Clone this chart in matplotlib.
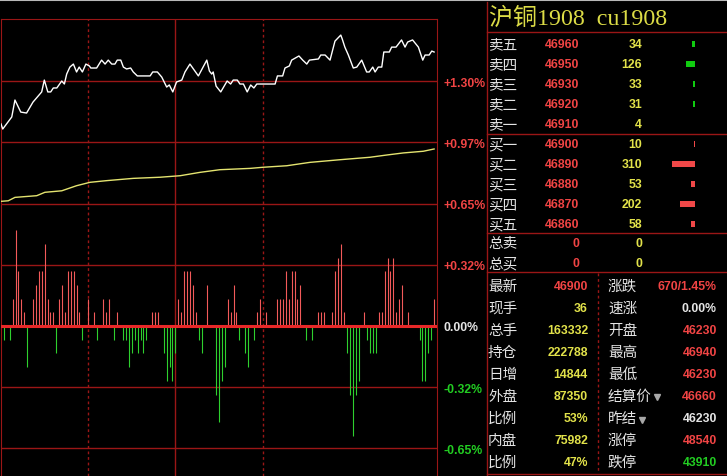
import matplotlib.pyplot as plt
import numpy as np

plt.rcParams['font.family'] = ['Noto Sans CJK SC', 'DejaVu Sans']

W, H = 727, 477

# 分时走势: 时间槽 (0-150) 与涨跌幅 (%)
price_t = [0.0, 0.6, 3.7, 4.8, 6.8, 8.8, 11.0, 14.0, 14.9, 16.1, 17.1, 18.0, 19.2, 20.9,
           21.8, 22.6, 23.7, 24.9, 26.0, 26.9, 28.0, 29.2, 30.4, 30.9, 32.9, 34.6, 35.8,
           36.9, 38.1, 39.2, 40.0, 41.2, 42.1, 43.2, 44.6, 45.5, 46.9, 51.3, 52.2, 53.8,
           55.3, 57.0, 57.9, 59.1, 60.4, 62.2, 63.3, 65.0, 67.9, 70.8, 71.7, 72.5, 73.0,
           74.0, 75.6, 77.8, 79.0, 79.9, 81.3, 82.2, 83.4, 84.7, 85.9, 87.0, 88.0, 94.3,
           95.1, 96.9, 97.7, 99.2, 100.0, 102.5, 103.8, 105.2, 106.1, 109.2, 110.0, 111.5,
           113.2, 114.9, 116.9, 117.4, 118.3, 119.5, 121.2, 122.4, 124.1, 125.8, 126.7,
           127.9, 128.7, 129.8, 131.0, 131.7, 133.6, 134.4, 135.9, 137.8, 139.0, 139.9,
           141.6, 143.6, 145.1, 145.9, 147.3, 148.2, 149.0]
price_pct = [1.073, 1.046, 1.110, 1.200, 1.136, 1.131, 1.189, 1.243, 1.306, 1.243, 1.243,
             1.264, 1.264, 1.301, 1.285, 1.338, 1.375, 1.391, 1.349, 1.375, 1.349, 1.391,
             1.381, 1.370, 1.370, 1.412, 1.391, 1.412, 1.391, 1.391, 1.412, 1.412, 1.375,
             1.365, 1.370, 1.349, 1.328, 1.328, 1.349, 1.349, 1.322, 1.269, 1.280, 1.243,
             1.296, 1.306, 1.349, 1.391, 1.328, 1.412, 1.354, 1.338, 1.349, 1.274, 1.243,
             1.301, 1.285, 1.306, 1.306, 1.285, 1.285, 1.243, 1.280, 1.264, 1.285, 1.285,
             1.328, 1.328, 1.370, 1.381, 1.412, 1.434, 1.412, 1.391, 1.412, 1.418, 1.439,
             1.439, 1.412, 1.513, 1.545, 1.524, 1.481, 1.439, 1.370, 1.375, 1.412, 1.349,
             1.349, 1.375, 1.349, 1.375, 1.375, 1.455, 1.455, 1.481, 1.481, 1.519, 1.481,
             1.508, 1.519, 1.481, 1.412, 1.439, 1.439, 1.460, 1.455]

# 均价线
avg_t = [0.0, 2.5, 4.8, 12.3, 15.1, 20.9, 26.0, 30.6, 36.4, 45.5, 54.7, 61.6, 68.5, 75.3,
         85.7, 90.2, 98.3, 106.3, 116.6, 126.9, 132.7, 138.4, 145.3, 149.0]
avg_pct = [0.662, 0.665, 0.683, 0.692, 0.710, 0.718, 0.745, 0.763, 0.772, 0.784, 0.790,
           0.798, 0.816, 0.830, 0.837, 0.843, 0.851, 0.869, 0.883, 0.896, 0.908, 0.919,
           0.928, 0.940]

# 红柱 / 绿柱 (时间槽, 单位)
up_t = [4, 5, 6, 7, 8, 11, 12, 13, 14, 15, 16, 17, 18, 20, 21, 22, 23, 24, 25, 26, 27, 30,
        32, 35, 36, 37, 40, 52, 53, 54, 61, 62, 63, 64, 65, 66, 67, 71, 78, 79, 80, 81, 88,
        89, 91, 95, 96, 97, 98, 99, 100, 101, 102, 103, 109, 110, 111, 114, 115, 116, 117,
        118, 125, 130, 131, 132, 133, 134, 135, 136, 137, 138, 140, 149]
up_v = [2, 7, 4, 2, 1, 2, 3, 4, 4, 6, 2, 1, 1, 2, 3, 1, 4, 4, 4, 3, 1, 2,
        1, 2, 1, 2, 1, 1, 1, 1, 2, 1, 4, 4, 4, 3, 1, 3, 2, 1, 3, 1, 1,
        2, 1, 2, 2, 2, 4, 2, 4, 4, 2, 3, 1, 1, 1, 1, 4, 5, 6,
        1, 1, 1, 1, 4, 5, 4, 5, 1, 2, 3, 1, 2]
down_t = [1, 3, 9, 19, 28, 33, 39, 42, 43, 44, 45, 46, 47, 48, 49, 50, 56, 57, 58, 59, 60,
          68, 69, 74, 75, 76, 77, 82, 84, 85, 87, 105, 107, 119, 120, 121, 122, 123, 126,
          127, 128, 129, 144, 145, 146, 147, 148]
down_v = [1, 1, 3, 2, 1, 1, 1, 1, 1, 3, 2, 1, 2, 1, 2, 1, 2, 4, 3, 4, 2,
          1, 2, 5, 7, 4, 3, 1, 2, 3, 1, 1, 1, 2, 5, 8, 5, 4, 1,
          2, 2, 2, 1, 4, 4, 2, 1]

y_ticks = [1.30, 0.975, 0.65, 0.325, 0.0, -0.325, -0.65]
y_labels = ['+1.30%', '+0.97%', '+0.65%', '+0.32%', '0.00%', '-0.32%', '-0.65%']

# 五档盘口
ask_names = ['卖五', '卖四', '卖三', '卖二', '卖一']
ask_prices = [46960, 46950, 46930, 46920, 46910]
ask_vols = [34, 126, 33, 31, 4]
bid_names = ['买一', '买二', '买三', '买四', '买五']
bid_prices = [46900, 46890, 46880, 46870, 46860]
bid_vols = [10, 310, 53, 202, 58]
total_names = ['总卖', '总买']
total_prices = [0, 0]
total_vols = [0, 0]

left_names = ['最新', '现手', '总手', '持仓', '日增', '外盘', '比例', '内盘', '比例']
left_values = ['46900', '36', '163332', '222788', '14844', '87350', '53%', '75982', '47%']
right_names = ['涨跌', '速涨', '开盘', '最高', '最低', '结算价', '昨结', '涨停', '跌停']
right_values = ['670/1.45%', '0.00%', '46230', '46940', '46230', '46660', '46230',
                '48540', '43910']

RED = '#f04444'
YEL = '#e2e24a'
GRN = '#22cc22'
WHT = '#e4e4e4'
GRID = '#9a1616'
NUM = dict(family=['Liberation Sans', 'DejaVu Sans'], weight='bold', fontsize=8.8)


def px_box(x0, y0, x1, y1):
    return [x0 / W, 1 - y1 / H, (x1 - x0) / W, (y1 - y0) / H]


fig = plt.figure(figsize=(W / 100, H / 100), dpi=100, facecolor='black')

# ---- 分时图 ----
pct_per_px = 0.325 / 61.2
ax = fig.add_axes(px_box(1, 20, 437, 477))
ax.set_facecolor('black')
ax.set_xlim(0, 150)
ax.set_ylim(-150 * pct_per_px, 307 * pct_per_px)

# 红绿柱用单独的纵轴 (1 单位 = 13.7 px)
bx = ax.twinx()
bx.set_ylim(-150 / 13.7, 307 / 13.7)
bx.axis('off')

for s in ['left', 'top', 'right']:
    ax.spines[s].set_color(GRID)
ax.spines['bottom'].set_visible(False)
ax.set_xticks([])
ax.yaxis.tick_right()
ax.set_yticks(y_ticks)
ax.set_yticklabels(y_labels, **NUM)
ax.tick_params(axis='y', length=0, pad=5, left=False, labelleft=False,
               right=False, labelright=True)
for lab, v in zip(ax.get_yticklabels(), y_ticks):
    lab.set_color(RED if v > 0 else (GRN if v < 0 else WHT))
    lab.set_fontsize(8.8)
for v in y_ticks:
    ax.axhline(v, color=GRID, lw=1, zorder=1)
ax.axvline(60, color=GRID, lw=1, zorder=1)
for v in [30, 90]:
    ax.axvline(v, color=GRID, lw=1, ls=(0, (2, 2)), zorder=1)

ax.plot(avg_t, avg_pct, color='#e4e470', lw=1, zorder=3)
ax.plot(price_t, price_pct, color='white', lw=1, zorder=3)

bx.vlines(up_t, 0, up_v, color='#f25a5a', lw=0.8)
bx.vlines(down_t, 0, -np.array(down_v), color='#2ed02e', lw=0.8)
bx.axhline(0, xmax=0.997, color='#e82828', lw=2.2)

# ---- 右侧盘口 ----
pan = fig.add_axes([0, 0, 1, 1])
pan.set_xlim(0, W)
pan.set_ylim(H, 0)
pan.axis('off')
pan.patch.set_alpha(0)

pan.plot([0, W], [1, 1], color='#b8b8b8', lw=1.5)
pan.plot([487, 487], [3, H], color=GRID, lw=1)
for y in [33, 135, 234, 273, 475]:
    pan.plot([487, W], [y, y], color=GRID, lw=1)
pan.plot([598, 598], [274, 474], color=GRID, lw=1, ls=(0, (2, 2)))

pan.text(489, 19, '沪铜1908  cu1908', family=['Liberation Serif', 'Noto Sans CJK SC'],
         fontsize=17.3, color='#dcdc46', va='center')

book_names = ask_names + bid_names + total_names
book_prices = ask_prices + bid_prices + total_prices
book_vols = ask_vols + bid_vols + total_vols
book_y = [45 + 20 * i for i in range(10)] + [244, 264]
for name, p, v, y in zip(book_names, book_prices, book_vols, book_y):
    pan.text(488, y, name, fontsize=10.5, color=WHT, va='center')
    pan.text(579, y, str(p), color=RED, ha='right', va='center', **NUM)
    pan.text(642, y, str(v), color=YEL, ha='right', va='center', **NUM)

right_colors = [RED, WHT, RED, RED, RED, RED, WHT, RED, GRN]
for i in range(9):
    y = 287 + 22 * i
    pan.text(488, y, left_names[i], fontsize=10.5, color=WHT, va='center')
    pan.text(588, y, left_values[i], color=RED if i == 0 else YEL, ha='right',
             va='center', **NUM)
    pan.text(608, y, right_names[i], fontsize=10.5, color=WHT, va='center')
    pan.text(717, y, right_values[i], color=right_colors[i], ha='right', va='center', **NUM)
pan.plot([657, 642], [398, 421], ls='none', marker='v', ms=5, color='#a8a8a8')

# 盘口量柱
dax = fig.add_axes(px_box(655, 35, 695, 235))
dax.set_xlim(40 / 0.075, 0)
dax.set_ylim(10, 0)
dax.axis('off')
rows = np.arange(10) + 0.5
dax.barh(rows[:5], ask_vols, height=0.33, color='#10cc10')
dax.barh(rows[5:], bid_vols, height=0.33, color='#f04848')

fig.savefig('out.png', dpi=100, facecolor='black')
